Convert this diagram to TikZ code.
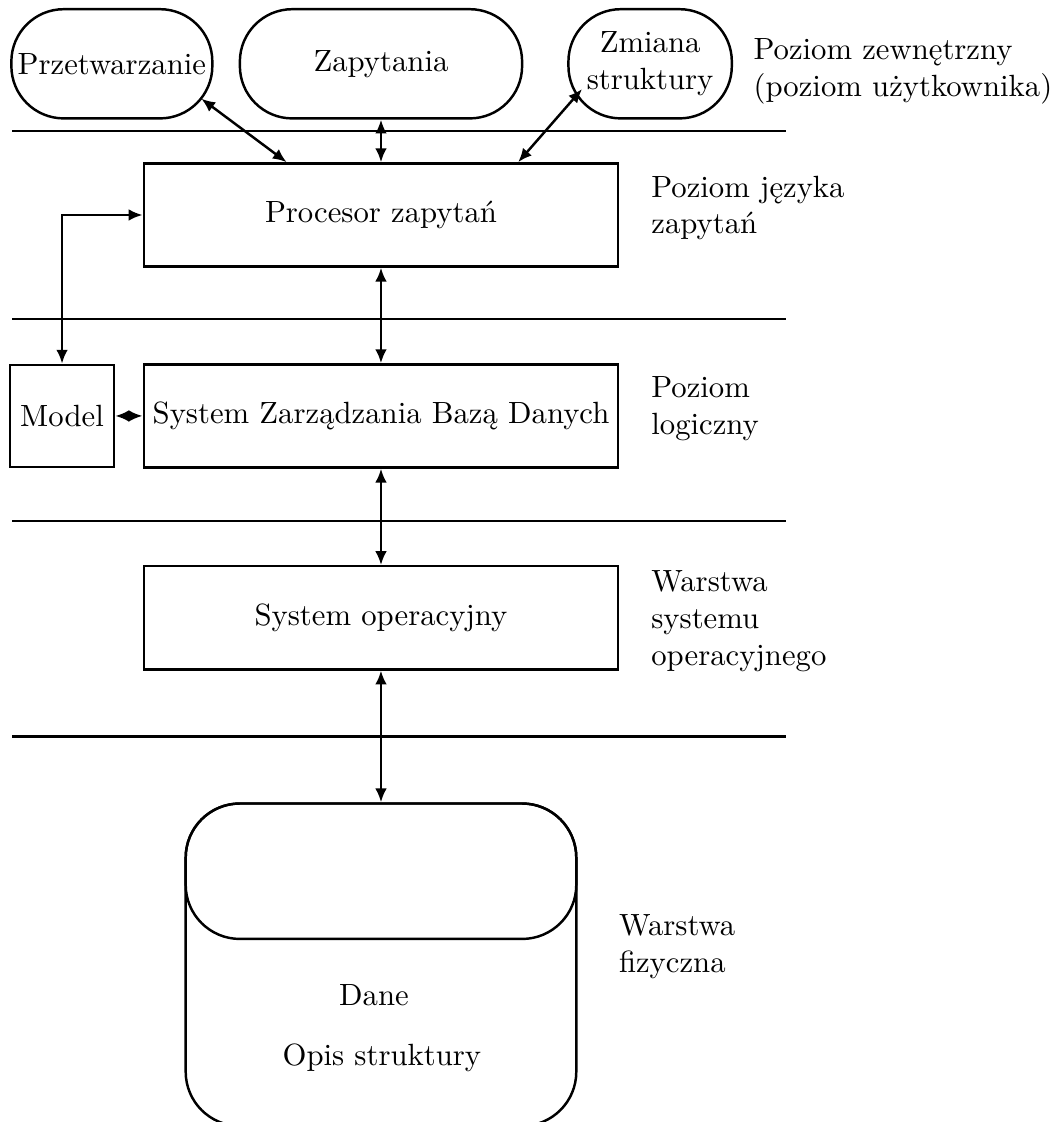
\documentclass[tikz,border=0pt]{standalone}
\usetikzlibrary{arrows.meta}
\begin{document}
\begin{tikzpicture}[line width=0.8pt,>={Latex[length=4.5pt,width=3.8pt]}]
  \useasboundingbox (0,0) rectangle (12.10,-12.84);

  % user level
  \begin{scope}[every node/.style={draw,rounded corners=0.6cm,minimum height=1.25cm,inner sep=1pt,align=center}]
    \node[minimum width=2.30cm] (1) at (1.28,-0.73) {Przetwarzanie};
    \node[minimum width=3.23cm] (2) at (4.36,-0.73) {Zapytania};
    \node[minimum width=1.87cm] (3) at (7.44,-0.73) {Zmiana\\struktury};
  \end{scope}

  % boxes
  \begin{scope}[every node/.style={draw,minimum width=5.43cm,minimum height=1.18cm,inner sep=1pt}]
    \node (4) at (4.36,-2.46) {Procesor zapytań};
    \node (6) at (4.36,-4.76) {System Zarządzania Bazą Danych};
    \node (7) at (4.36,-7.07) {System operacyjny};
    \node[minimum width=1.19cm,minimum height=1.17cm] (5) at (0.71,-4.76) {Model};
  \end{scope}

  % data store
  \begin{scope}[every node/.style={draw,rounded corners=0.62cm,minimum width=4.47cm,inner sep=0pt}]
    \node[minimum height=3.69cm] (9) at (4.36,-11.04) {};
    \node[minimum height=1.55cm] (8) at (4.36,-9.97) {};
  \end{scope}
  \node[anchor=base] (10) at (4.28,-11.51) {Dane};
  \node[anchor=base] (11) at (4.37,-12.19) {Opis struktury};

  \foreach \y in {1.50,3.65,5.96,8.43}
    \draw (0.14,-\y) -- (9.00,-\y);

  % level names
  \begin{scope}[every node/.style={anchor=west,align=left,inner sep=0pt}]
    \node (12) at (8.61,-0.82) {Poziom zewnętrzny\\(poziom użytkownika)};
    \node (13) at (7.44,-2.38) {Poziom języka\\zapytań};
    \node (14) at (7.44,-4.68) {Poziom\\logiczny};
    \node (15) at (7.44,-7.11) {Warstwa\\systemu\\operacyjnego};
    \node (16) at (7.07,-10.83) {Warstwa\\fizyczna};
  \end{scope}

  \begin{scope}[every edge/.style={draw,<->}]
    \path ([shift={(-0.14,0.24)}]1.south east) edge ([xshift=-1.08cm]4.north);
    \path (2) edge (4);
    \path ([shift={(0.17,0.35)}]3.south west) edge ([xshift=1.57cm]4.north);
    \path (4) edge (6);
    \path (6) edge (7);
    \path (7) edge (8);
    \path (5) edge (6);
  \end{scope}
  \draw[<->] (4) -| (5);

\end{tikzpicture}
\end{document}
